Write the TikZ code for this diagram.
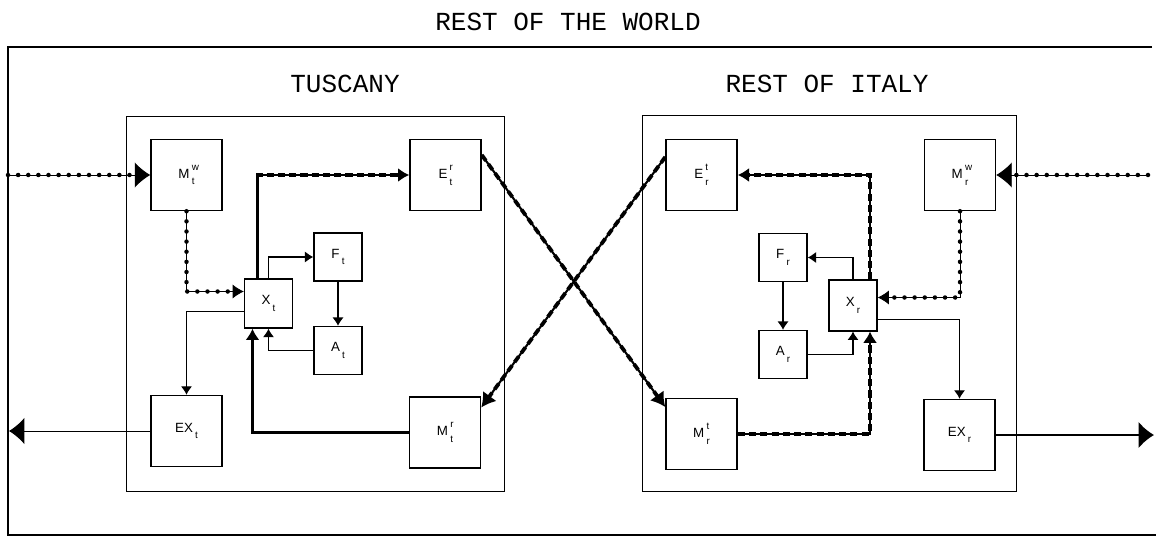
\documentclass[tikz,border=0pt]{standalone}
\usepackage{amsmath,amssymb}
\usepackage{fontspec}
\setmainfont{Liberation Mono}
\setsansfont{Liberation Sans}
\usepackage{tikz}
\usetikzlibrary{arrows.meta,calc}

\newcommand{\blab}[3]{#1\,\rlap{\raisebox{1.15ex}{\scriptsize #2}}\raisebox{-0.95ex}{\scriptsize #3}}
\newcommand{\slab}[2]{#1\,\raisebox{-0.95ex}{\scriptsize #2}}

\begin{document}
\begin{tikzpicture}[
	x=0.025cm, y=-0.025cm,
	title/.style={font=\fontsize{18.5}{20}\selectfont, inner sep=0},
	region/.style={draw, line width=0.6pt, inner sep=0},
	bigbox/.style={draw, line width=0.9pt, font=\sffamily\fontsize{9.5}{10}\selectfont, minimum width=1.78cm, minimum height=1.78cm, inner sep=0, align=center},
	smallbox/.style={bigbox, minimum width=1.2cm, minimum height=1.2cm},
	flow/.style={line width=0.9pt, -{Latex[length=6pt,width=8pt]}},
	outflow/.style={line width=0.7pt, -{Latex[length=11pt,width=19pt]}},
	dotflow/.style={line width=0.6pt, -{Latex[length=8pt,width=10pt]}, postaction={draw, -, line width=3.2pt, line cap=round, dash pattern=on 0pt off 7.2pt, shorten >=8pt}},
	dashflow/.style={line width=1.5pt, -{Latex[length=8pt,width=10pt]}, postaction={draw, -, line width=2.7pt, dash pattern=on 5pt off 3pt, shorten >=8pt}}
]
\useasboundingbox (0,0) rectangle (1156,538);

\node[title] (world) at (568,22) {REST OF THE WORLD};
\draw[line width=0.9pt] (1152,47) -- (8,47) -- (8,535) -- (1156,535);

\node[title] (tustitle) at (345,84) {TUSCANY};
\node[title] (itatitle) at (827,84) {REST OF ITALY};
\node[region, minimum width=9.45cm, minimum height=9.375cm] (tus) at (315,303.5) {};
\node[region, minimum width=9.35cm, minimum height=9.4cm] (ita) at (829,303.5) {};

\node[bigbox] (Mtw) at (186.5,175) {\blab{M}{w}{t}};
\node[bigbox] (Etr) at (445.5,175) {\blab{E}{r}{t}};
\node[smallbox] (Ft) at (338,257) {\slab{F}{t}};
\node[smallbox, minimum height=1.23cm] (Xt) at (268.5,303.5) {\slab{X}{t}};
\node[smallbox] (At) at (338,350.5) {\slab{A}{t}};
\node[bigbox] (EXt) at (186.5,431) {\slab{EX}{t}};
\node[bigbox] (Mtr) at (445,432.5) {\blab{M}{r}{t}};

\node[bigbox] (Ert) at (701.5,175) {\blab{E}{t}{r}};
\node[bigbox] (Mrw) at (960,175) {\blab{M}{w}{r}};
\node[smallbox] (Fr) at (783,257.5) {\slab{F}{r}};
\node[smallbox, minimum height=1.27cm] (Xr) at (853,305.5) {\slab{X}{r}};
\node[smallbox] (Ar) at (783,354.5) {\slab{A}{r}};
\node[bigbox] (Mrt) at (701.5,434) {\blab{M}{t}{r}};
\node[bigbox] (EXr) at (959.5,435) {\slab{EX}{r}};

\coordinate (win) at (8,175);
\coordinate (wout) at (9,431);
\coordinate (ein) at (1148,175);
\coordinate (eout) at (1154,435);

\draw[dotflow, -{Latex[length=11pt,width=18pt]}] (win) -- (Mtw.west);
\draw[dotflow] (Mtw.south) |- ($(Xt.west)+(0,-12)$);
\draw[dashflow] ($(Xt.north)+(-11,0)$) |- (Etr.west);
\draw[flow] (Xt.north) |- (Ft.west);
\draw[flow] (Ft.south) -- (Ft.south |- At.north);
\draw[flow] (At.west) -| (Xt.south);
\draw[dashflow] (Mtr.west) -| ($(Xt.south)+(-16,0)$);
\draw[flow] ($(Xt.west)+(0,8)$) -| (EXt.north);
\draw[outflow] (EXt.west) -- (wout);

\draw[dashflow, -{Latex[length=10pt,width=12pt]}] ($(Etr.east)+(0,-20)$) -- ($(Mrt.west)+(0,-27)$);
\draw[dashflow, -{Latex[length=10pt,width=12pt]}] ($(Ert.west)+(0,-18)$) -- ($(Mtr.east)+(0,-25)$);

\draw[dotflow, -{Latex[length=11pt,width=18pt]}] (ein) -- (Mrw.east);
\draw[dotflow] (Mrw.south) |- ($(Xr.east)+(0,-8)$);
\draw[dashflow] ($(Xr.north)+(17,0)$) |- (Ert.east);
\draw[flow] (Xr.north) |- (Fr.east);
\draw[flow] (Fr.south) -- (Fr.south |- Ar.north);
\draw[flow] (Ar.east) -| (Xr.south);
\draw[dashflow] (Mrt.east) -| ($(Xr.south)+(17,0)$);
\draw[flow] ($(Xr.east)+(0,14)$) -| (EXr.north);
\draw[outflow, line width=1.4pt] (EXr.east) -- (eout);
\end{tikzpicture}
\end{document}
